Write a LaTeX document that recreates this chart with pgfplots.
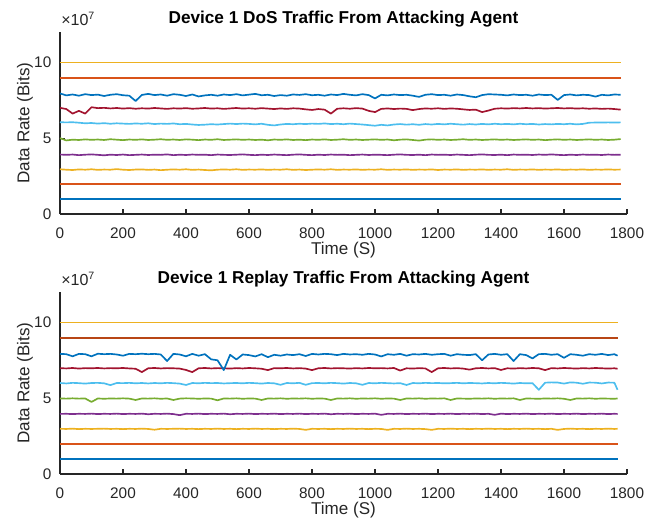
\documentclass[border=0pt]{standalone}
\usepackage{pgfplots}
\pgfplotsset{compat=1.18}
\usepackage{pgfplotstable}
\usepackage{fontspec}
\setmainfont{Liberation Sans}
\definecolor{c1}{rgb}{0,0.447,0.741}
\definecolor{c2}{rgb}{0.85,0.325,0.098}
\definecolor{c3}{rgb}{0.929,0.694,0.125}
\definecolor{c4}{rgb}{0.494,0.184,0.556}
\definecolor{c5}{rgb}{0.466,0.674,0.188}
\definecolor{c6}{rgb}{0.301,0.745,0.933}
\definecolor{c7}{rgb}{0.635,0.078,0.184}
\definecolor{axgray}{rgb}{0.15,0.15,0.15}

\pgfplotstableread{
x    y3    y4    y5    y6    y7    y8
0    2.95  3.92  5.00  6.05  7.00  7.95
20   2.92  3.90  4.85  6.04  6.92  7.82
40   2.90  3.92  4.90  6.05  6.62  7.88
60   2.94  3.88  4.88  6.02  6.80  7.80
80   2.92  3.91  4.92  5.98  6.62  7.90
100  2.95  3.93  4.89  6.00  7.04  7.84
120  2.91  3.90  4.91  5.96  6.98  7.87
140  2.93  3.87  4.88  5.99  7.00  7.78
160  2.92  3.91  4.93  5.95  6.96  7.86
180  2.96  3.89  4.90  5.98  6.99  7.90
200  2.92  3.92  4.87  5.96  6.95  7.83
220  2.90  3.88  4.91  5.94  6.98  7.80
240  2.93  3.90  4.89  5.97  6.94  7.45
260  2.94  3.92  4.92  5.95  6.97  7.85
280  2.91  3.89  4.88  5.98  6.95  7.92
300  2.93  3.91  4.90  5.93  6.99  7.84
320  2.89  3.90  4.93  5.96  6.96  7.88
340  2.92  3.93  4.89  5.94  6.93  7.80
360  2.94  3.88  4.91  5.97  6.97  7.90
380  2.92  3.91  4.88  5.92  6.95  7.86
400  2.95  3.89  4.92  5.94  6.98  7.78
420  2.91  3.92  4.90  5.90  6.94  7.88
440  2.93  3.90  4.87  5.87  6.96  7.75
460  2.90  3.91  4.91  5.89  6.99  7.82
480  2.88  3.88  4.89  5.92  6.95  7.86
500  2.92  3.92  4.93  5.90  6.97  7.80
520  2.94  3.90  4.88  5.93  6.93  7.88
540  2.92  3.89  4.90  5.96  6.96  7.84
560  2.95  3.91  4.92  5.93  6.99  7.90
580  2.91  3.93  4.89  5.96  6.95  7.82
600  2.93  3.90  4.91  5.94  6.97  7.87
620  2.92  3.88  4.88  5.91  6.94  7.92
640  2.94  3.91  4.90  5.95  6.98  7.83
660  2.91  3.89  4.86  5.88  6.95  7.86
680  2.93  3.92  4.91  5.84  6.92  7.78
700  2.92  3.90  4.89  5.90  6.96  7.84
720  2.95  3.88  4.92  5.94  6.93  7.80
740  2.91  3.91  4.88  5.92  6.97  7.88
760  2.93  3.93  4.90  5.95  6.95  7.85
780  2.90  3.90  4.87  5.93  6.90  7.90
800  2.92  3.88  4.91  5.96  6.86  7.83
820  2.94  3.91  4.89  5.94  6.92  7.86
840  2.92  3.89  4.92  5.97  6.88  7.80
860  2.95  3.92  4.88  5.93  6.62  7.88
880  2.91  3.90  4.90  5.95  6.94  7.84
900  2.93  3.91  4.93  5.92  6.97  7.92
920  2.92  3.88  4.89  5.96  6.94  7.86
940  2.94  3.90  4.91  5.93  6.98  7.82
960  2.91  3.92  4.88  5.90  6.95  7.90
980  2.93  3.89  4.90  5.86  6.80  7.84
1000 2.92  3.91  4.92  5.82  6.72  7.62
1020 2.95  3.90  4.89  5.88  6.93  7.86
1040 2.91  3.88  4.91  5.84  6.96  7.82
1060 2.93  3.91  4.86  5.90  6.92  7.88
1080 2.92  3.93  4.90  5.93  6.95  7.84
1100 2.94  3.90  4.92  5.89  6.93  7.86
1120 2.91  3.89  4.88  5.92  6.85  7.80
1140 2.93  3.91  4.84  5.88  6.92  7.72
1160 2.92  3.88  4.90  5.93  6.96  7.86
1180 2.94  3.92  4.92  5.90  6.94  7.90
1200 2.90  3.90  4.89  5.94  6.97  7.84
1220 2.93  3.91  4.91  5.91  6.93  7.86
1240 2.92  3.89  4.88  5.95  6.96  7.80
1260 2.94  3.92  4.90  5.92  6.94  7.88
1280 2.91  3.90  4.93  5.89  6.90  7.84
1300 2.93  3.88  4.89  5.93  6.86  7.76
1320 2.92  3.91  4.91  5.90  6.88  7.70
1340 2.94  3.93  4.88  5.94  6.72  7.84
1360 2.91  3.90  4.90  5.91  6.82  7.90
1380 2.93  3.89  4.92  5.95  6.94  7.88
1400 2.92  3.91  4.89  5.92  6.97  7.86
1420 2.95  3.88  4.91  5.94  6.95  7.82
1440 2.91  3.92  4.88  5.91  6.98  7.88
1460 2.93  3.90  4.90  5.95  6.96  7.84
1480 2.92  3.91  4.92  5.92  6.99  7.86
1500 2.94  3.89  4.89  5.94  6.96  7.80
1520 2.91  3.92  4.91  5.90  6.98  7.88
1540 2.93  3.90  4.87  5.93  6.95  7.84
1560 2.92  3.93  4.90  5.91  6.97  7.86
1580 2.94  3.90  4.92  5.94  6.99  7.52
1600 2.91  3.88  4.89  5.92  6.96  7.84
1620 2.93  3.91  4.91  5.95  6.98  7.88
1640 2.92  3.89  4.88  5.91  6.95  7.82
1660 2.94  3.92  4.90  5.94  6.97  7.86
1680 2.91  3.90  4.92  6.02  6.94  7.84
1700 2.93  3.91  4.89  6.03  6.96  7.74
1720 2.92  3.89  4.91  6.03  6.93  7.86
1740 2.94  3.92  4.88  6.04  6.95  7.82
1760 2.92  3.90  4.90  6.03  6.92  7.88
1780 2.93  3.91  4.94  6.04  6.88  7.86
}\dos

\pgfplotstableread{
x    y3    y4    y5    y6    y7    y8
0    2.98  3.96  4.98  6.00  6.98  7.92
20   2.97  3.97  4.97  5.97  6.96  7.90
40   2.99  3.95  4.99  6.01  6.99  7.76
60   2.96  3.97  4.97  5.99  6.95  7.92
80   2.98  3.96  4.98  5.96  6.98  7.90
100  2.97  3.98  4.75  6.00  6.97  7.76
120  2.98  3.95  4.98  6.01  6.99  7.93
140  2.99  3.97  4.96  5.98  6.96  7.90
160  2.97  3.96  4.98  5.86  6.98  7.92
180  2.98  3.98  4.97  6.00  6.97  7.88
200  2.96  3.95  4.99  5.99  6.99  7.80
220  2.98  3.97  4.97  6.01  6.96  7.92
240  2.97  3.96  4.88  5.98  6.94  7.90
260  2.99  3.98  4.98  6.00  6.72  7.93
280  2.97  3.94  4.97  5.97  6.97  7.90
300  2.92  3.97  4.99  6.00  6.99  7.92
320  2.98  3.96  4.96  5.98  6.96  7.88
340  2.97  3.98  4.98  6.01  6.98  7.45
360  2.98  3.95  4.88  5.99  6.97  7.92
380  2.99  3.88  4.97  5.96  6.95  7.88
400  2.97  3.97  4.99  5.87  6.86  7.76
420  2.98  3.96  4.98  6.00  6.72  7.92
440  2.96  3.98  4.96  5.98  6.97  7.80
460  2.98  3.95  4.98  6.01  6.99  7.90
480  2.97  3.97  4.97  5.99  6.96  7.56
500  2.99  3.96  4.86  6.00  6.98  7.50
520  2.97  3.98  4.98  5.97  6.97  6.85
540  2.98  3.94  4.97  5.99  6.95  7.86
560  2.96  3.97  4.99  6.00  6.98  7.55
580  2.98  3.96  4.96  5.98  6.96  7.88
600  2.97  3.98  4.98  6.01  6.99  7.84
620  2.99  3.95  4.97  5.99  6.97  7.75
640  2.97  3.97  4.88  5.96  6.94  7.90
660  2.98  3.96  4.98  6.00  6.85  7.70
680  2.96  3.98  4.97  5.98  6.98  7.86
700  2.98  3.95  4.99  5.88  6.97  7.80
720  2.97  3.97  4.96  6.00  6.99  7.88
740  2.99  3.96  4.98  5.98  6.96  7.84
760  2.97  3.98  4.97  6.01  6.98  7.90
780  2.91  3.95  4.99  5.88  6.95  7.78
800  2.98  3.97  4.96  5.99  6.85  7.92
820  2.97  3.96  4.98  6.00  6.97  7.88
840  2.98  3.98  4.97  5.98  6.99  7.92
860  2.96  3.94  4.88  6.01  6.96  7.90
880  2.98  3.97  4.98  5.99  6.98  7.84
900  2.97  3.96  4.97  5.96  6.97  7.92
920  2.99  3.98  4.99  6.00  6.95  7.88
940  2.97  3.95  4.96  5.98  6.98  7.90
960  2.98  3.97  4.98  5.88  6.96  7.86
980  2.96  3.96  4.97  6.00  6.99  7.92
1000 2.98  3.98  4.99  5.98  6.97  7.88
1020 2.97  3.90  4.96  6.01  6.98  7.75
1040 2.91  3.97  4.98  5.99  6.96  7.90
1060 2.98  3.96  4.97  5.97  6.99  7.86
1080 2.97  3.98  4.88  5.99  6.82  7.92
1100 2.99  3.95  4.98  5.87  6.97  7.80
1120 2.97  3.97  4.97  6.00  6.95  7.90
1140 2.98  3.96  4.99  5.98  6.98  7.88
1160 2.96  3.98  4.96  6.01  6.96  7.92
1180 2.91  3.95  4.98  5.99  6.72  7.86
1200 2.98  3.97  4.97  6.00  6.97  7.90
1220 2.97  3.96  4.99  5.98  6.99  7.92
1240 2.99  3.98  4.88  5.99  6.96  7.80
1260 2.97  3.95  4.98  6.01  6.98  7.90
1280 2.98  3.97  4.97  5.98  6.95  7.86
1300 2.96  3.96  4.96  6.00  6.88  7.84
1320 2.98  3.98  4.98  5.99  6.97  7.90
1340 2.97  3.95  4.97  5.97  6.99  7.50
1360 2.99  3.97  4.99  6.00  6.96  7.88
1380 2.97  3.90  4.96  5.98  6.98  7.92
1400 2.98  3.98  4.98  6.01  6.86  7.86
1420 2.96  3.95  4.97  5.99  6.97  7.90
1440 2.98  3.97  4.99  5.96  6.95  7.45
1460 2.97  3.96  4.88  6.00  6.98  7.90
1480 2.99  3.98  4.98  5.98  6.96  7.84
1500 2.97  3.95  4.97  5.99  6.99  7.62
1520 2.98  3.97  4.96  5.55  6.97  7.90
1540 2.96  3.96  4.98  6.02  6.85  7.92
1560 2.98  3.98  4.97  6.04  6.98  7.86
1580 2.91  3.95  4.99  6.03  6.96  7.90
1600 2.97  3.97  4.96  5.96  6.99  7.66
1620 2.99  3.96  4.88  6.04  6.97  7.90
1640 2.97  3.98  4.98  6.02  6.95  7.86
1660 2.98  3.95  4.97  5.95  6.98  7.80
1680 2.96  3.97  4.99  6.03  6.96  7.90
1700 2.98  3.96  4.96  6.02  6.99  7.86
1720 2.97  3.98  4.98  5.97  6.97  7.92
1740 2.99  3.95  4.97  6.03  6.95  7.84
1760 2.97  3.97  4.96  6.02  6.97  7.90
1770 2.98  3.96  4.98  5.55  6.94  7.80
}\replay

\pgfplotsset{
  mat/.style={
    scale only axis, width=425.25pt, height=136.5pt,
    xmin=0, xmax=1800, ymin=0, ymax=12,
    axis x line*=bottom, axis y line*=left,
    xtick={0,200,...,1800}, ytick={0,5,10},
    tick align=inside, major tick length=3.75pt,
    axis line style={-, draw=axgray, line width=0.8pt},
    every tick/.style={draw=axgray, line width=0.8pt},
    tick label style={font=\fontsize{11.5}{13}\selectfont, text=axgray},
    /pgf/number format/assume math mode=true,
    /pgf/number format/1000 sep={},
    scaled ticks=false,
    xticklabel style={yshift=-6.5pt},
    yticklabel style={xshift=-3pt},
    label style={font=\fontsize{12.8}{14}\selectfont, text=axgray},
    xlabel style={at={(axis description cs:0.5,-0.198)}, anchor=center},
    ylabel style={at={(axis description cs:-0.062,0.5)}, anchor=center},
    title style={at={(axis description cs:0.5,1.071)}, anchor=center, yshift=-6pt,
      font=\bfseries\fontsize{12.9}{14}\selectfont, text=black},
    xlabel={Time (S)}, ylabel={Data Rate (Bits)},
    every axis plot/.append style={line width=1.1pt},
    clip=false,
  },
  noisy/.style={line width=1.25pt, line join=round},
}

\begin{document}
\begin{tikzpicture}
\useasboundingbox (-45pt,-232.5pt) rectangle (450.75pt,160.5pt);
\begin{axis}[mat, at={(0pt,0pt)}, anchor=south west,
  title={Device 1 DoS Traffic From Attacking Agent}]
  \addplot[c1, line width=1.4pt] coordinates {(0,1) (1780,1)};
  \addplot[c2] coordinates {(0,1.98) (1780,1.98)};
  \addplot[c3, noisy] table[x=x,y=y3] {\dos};
  \addplot[c4, noisy] table[x=x,y=y4] {\dos};
  \addplot[c5, noisy] table[x=x,y=y5] {\dos};
  \addplot[c6, noisy] table[x=x,y=y6] {\dos};
  \addplot[c7, noisy] table[x=x,y=y7] {\dos};
  \addplot[c1, noisy] table[x=x,y=y8] {\dos};
  \addplot[c2] coordinates {(0,8.96) (1780,8.96)};
  \addplot[c3] coordinates {(0,10) (1780,10)};
  \node[anchor=south west, inner sep=0pt, text=axgray, font=\fontsize{12}{13}\selectfont]
    at (rel axis cs:0,1) [xshift=0.75pt, yshift=4.5pt] {×10\textsuperscript{7}};
\end{axis}
\begin{axis}[mat, at={(0pt,-195pt)}, anchor=south west,
  title={Device 1 Replay Traffic From Attacking Agent}]
  \addplot[c1, line width=1.4pt] coordinates {(0,1) (1770,1)};
  \addplot[c2] coordinates {(0,1.98) (1770,1.98)};
  \addplot[c3, noisy] table[x=x,y=y3] {\replay};
  \addplot[c4, noisy] table[x=x,y=y4] {\replay};
  \addplot[c5, noisy] table[x=x,y=y5] {\replay};
  \addplot[c6, noisy] table[x=x,y=y6] {\replay};
  \addplot[c7, noisy] table[x=x,y=y7] {\replay};
  \addplot[c1, noisy] table[x=x,y=y8] {\replay};
  \addplot[c2!85!black, line width=1.4pt] coordinates {(0,8.98) (1770,8.98)};
  \addplot[c3] coordinates {(0,10) (1770,10)};
  \node[anchor=south west, inner sep=0pt, text=axgray, font=\fontsize{12}{13}\selectfont]
    at (rel axis cs:0,1) [xshift=0.75pt, yshift=4.5pt] {×10\textsuperscript{7}};
\end{axis}
\end{tikzpicture}
\end{document}
